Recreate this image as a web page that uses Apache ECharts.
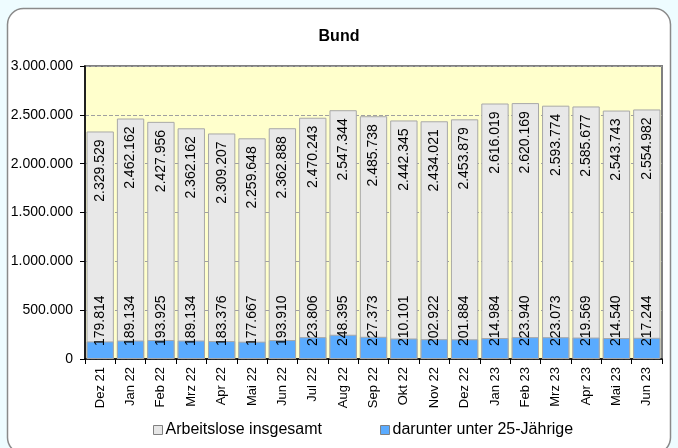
<!DOCTYPE html>
<html><head><meta charset="utf-8">
<script src="https://cdn.jsdelivr.net/npm/echarts@6/dist/echarts.min.js"></script>
<style>html,body{margin:0;padding:0;background:#eefcff;}#c{width:678px;height:448px;}</style>
</head><body><div id="c"></div>
<script>
const categories = ['Dez 21','Jan 22','Feb 22','Mrz 22','Apr 22','Mai 22','Jun 22','Jul 22','Aug 22','Sep 22','Okt 22','Nov 22','Dez 22','Jan 23','Feb 23','Mrz 23','Apr 23','Mai 23','Jun 23'];
const totalValues = [2329529,2462162,2427956,2362162,2309207,2259648,2362888,2470243,2547344,2485738,2442345,2434021,2453879,2616019,2620169,2593774,2585677,2543743,2554982];
const youthValues = [179814,189134,193925,189134,183376,177667,193910,223806,248395,227373,210101,202922,201884,214984,223940,223073,219569,214540,217244];
const yTicks = [0,500000,1000000,1500000,2000000,2500000,3000000];

function de(v){return String(v).replace(/\B(?=(\d{3})+(?!\d))/g,'.');}
const font = 'Liberation Sans, Arial, sans-serif';
const chart = echarts.init(document.getElementById('c'), null, {renderer:'canvas'});
chart.setOption({
  backgroundColor:'#eefcff',
  animation:false,
  graphic:[
    {type:'rect', z:-10, shape:{x:7.5,y:8.5,width:663,height:445,r:16}, style:{fill:'#ffffff',stroke:'#8a8a8a',lineWidth:1.5}},
    {type:'rect', z:-5, shape:{x:85,y:66,width:577,height:293}, style:{fill:'#ffffcc',stroke:'#808080',lineWidth:2}}
  ],
  title:{text:'Bund', left:'center', top:24, textStyle:{fontFamily:font,fontSize:16,fontWeight:'bold',color:'#000'}},
  legend:{bottom:5, left:148, itemWidth:9, itemHeight:9, itemGap:58, icon:'rect',
    textStyle:{fontFamily:font,fontSize:16,color:'#000',padding:[0,0,0,-2]},
    data:[{name:'Arbeitslose insgesamt',itemStyle:{color:'#e6e6e6',borderColor:'#808080',borderWidth:1}},
          {name:'darunter unter 25-Jährige',itemStyle:{color:'#5aabff',borderColor:'#808080',borderWidth:1}}]},
  grid:{left:85,right:16,top:66,bottom:89},
  xAxis:{type:'category', data:categories, boundaryGap:true,
    axisLine:{lineStyle:{color:'#000',width:1.5}},
    axisTick:{show:true,length:5,lineStyle:{color:'#000'}},
    axisLabel:{rotate:90,fontFamily:font,fontSize:13,color:'#000',margin:8}},
  yAxis:{type:'value', min:0, max:3000000, interval:500000,
    axisLine:{show:true,lineStyle:{color:'#000',width:1.5}},
    axisTick:{show:true,length:5,lineStyle:{color:'#000'}},
    splitLine:{show:true,lineStyle:{color:'#a0a0a0',type:'dashed',width:1}},
    axisLabel:{fontFamily:font,fontSize:14,color:'#000',margin:12,formatter:v=>de(v)}},
  series:[
    {name:'Arbeitslose insgesamt', type:'bar', data:totalValues, barCategoryGap:'10%', barGap:'-100%',
      itemStyle:{color:'#e8e8e8',borderColor:'#a8a8a8',borderWidth:1},
      label:{show:true,position:'insideTop',rotate:90,align:'right',verticalAlign:'middle',distance:8,
        fontFamily:font,fontSize:14,color:'#000',formatter:p=>de(p.value)}},
    {name:'darunter unter 25-Jährige', type:'bar', data:youthValues, barCategoryGap:'10%', barGap:'-100%',
      itemStyle:{color:'#5aabff',borderColor:'#a8a8a8',borderWidth:1},
      label:{show:true,position:'insideBottom',rotate:90,align:'left',verticalAlign:'middle',distance:13,
        fontFamily:font,fontSize:14,color:'#000',formatter:p=>de(p.value)}}
  ]
});
</script></body></html>
